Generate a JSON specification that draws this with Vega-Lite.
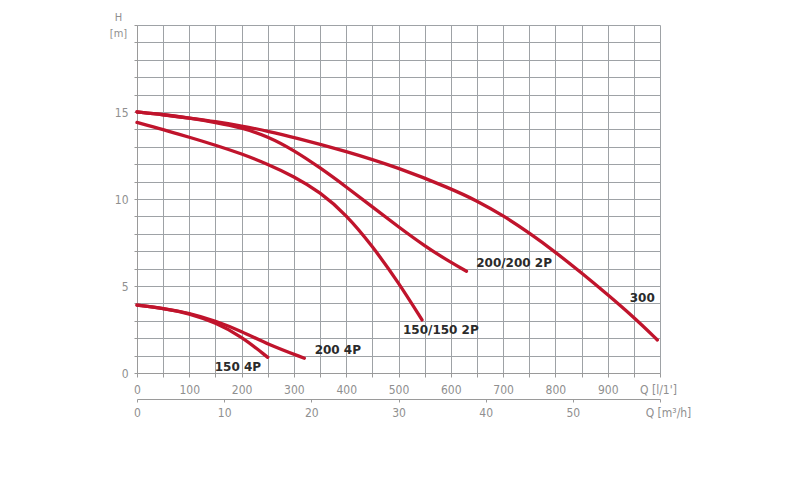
{
  "$schema": "https://vega.github.io/schema/vega-lite/v6.json",
  "width": 523,
  "height": 348,
  "autosize": {"type": "none"},
  "padding": {"left": 137, "top": 25, "right": 152, "bottom": 112},
  "background": "white",
  "config": {
    "view": {"stroke": null},
    "axis": {
      "labelFont": "Liberation Sans Narrow, DejaVu Sans Condensed, sans-serif",
      "labelFontSize": 12,
      "labelColor": "#8f8f8f",
      "titleFont": "Liberation Sans Narrow, DejaVu Sans Condensed, sans-serif",
      "titleColor": "#8f8f8f",
      "titleFontWeight": "normal",
      "domainColor": "#9a9a9a",
      "tickColor": "#9a9a9a",
      "gridColor": "#9ea2a6",
      "gridOpacity": 1,
      "gridWidth": 1,
      "labelOverlap": false,
      "labelFlush": false
    }
  },
  "datasets": {
    "curves": [
      {"series": "300", "Q": 0, "H": 15.0},
      {"series": "300", "Q": 50, "H": 14.85},
      {"series": "300", "Q": 100, "H": 14.65},
      {"series": "300", "Q": 150, "H": 14.45},
      {"series": "300", "Q": 200, "H": 14.2},
      {"series": "300", "Q": 250, "H": 13.9},
      {"series": "300", "Q": 300, "H": 13.55},
      {"series": "300", "Q": 400, "H": 12.75},
      {"series": "300", "Q": 500, "H": 11.8},
      {"series": "300", "Q": 600, "H": 10.6},
      {"series": "300", "Q": 650, "H": 9.9},
      {"series": "300", "Q": 700, "H": 9.05},
      {"series": "300", "Q": 750, "H": 8.05},
      {"series": "300", "Q": 800, "H": 6.95},
      {"series": "300", "Q": 850, "H": 5.75},
      {"series": "300", "Q": 900, "H": 4.5},
      {"series": "300", "Q": 950, "H": 3.2},
      {"series": "300", "Q": 995, "H": 1.9},
      {"series": "200/200 2P", "Q": 0, "H": 15.0},
      {"series": "200/200 2P", "Q": 50, "H": 14.85},
      {"series": "200/200 2P", "Q": 100, "H": 14.65},
      {"series": "200/200 2P", "Q": 150, "H": 14.4},
      {"series": "200/200 2P", "Q": 200, "H": 14.1},
      {"series": "200/200 2P", "Q": 250, "H": 13.6},
      {"series": "200/200 2P", "Q": 300, "H": 12.8},
      {"series": "200/200 2P", "Q": 350, "H": 11.8},
      {"series": "200/200 2P", "Q": 400, "H": 10.7},
      {"series": "200/200 2P", "Q": 450, "H": 9.55},
      {"series": "200/200 2P", "Q": 500, "H": 8.4},
      {"series": "200/200 2P", "Q": 550, "H": 7.3},
      {"series": "200/200 2P", "Q": 600, "H": 6.35},
      {"series": "200/200 2P", "Q": 630, "H": 5.85},
      {"series": "150/150 2P", "Q": 0, "H": 14.4},
      {"series": "150/150 2P", "Q": 50, "H": 14.0},
      {"series": "150/150 2P", "Q": 100, "H": 13.55},
      {"series": "150/150 2P", "Q": 150, "H": 13.1},
      {"series": "150/150 2P", "Q": 200, "H": 12.6},
      {"series": "150/150 2P", "Q": 250, "H": 12.0},
      {"series": "150/150 2P", "Q": 300, "H": 11.3},
      {"series": "150/150 2P", "Q": 350, "H": 10.4},
      {"series": "150/150 2P", "Q": 400, "H": 9.1},
      {"series": "150/150 2P", "Q": 450, "H": 7.3},
      {"series": "150/150 2P", "Q": 500, "H": 5.2},
      {"series": "150/150 2P", "Q": 545, "H": 3.05},
      {"series": "200 4P", "Q": 0, "H": 3.9},
      {"series": "200 4P", "Q": 50, "H": 3.72},
      {"series": "200 4P", "Q": 100, "H": 3.45},
      {"series": "200 4P", "Q": 150, "H": 3.0},
      {"series": "200 4P", "Q": 200, "H": 2.4},
      {"series": "200 4P", "Q": 250, "H": 1.65},
      {"series": "200 4P", "Q": 320, "H": 0.85},
      {"series": "150 4P", "Q": 0, "H": 3.9},
      {"series": "150 4P", "Q": 50, "H": 3.72},
      {"series": "150 4P", "Q": 100, "H": 3.42},
      {"series": "150 4P", "Q": 150, "H": 2.9},
      {"series": "150 4P", "Q": 200, "H": 2.1},
      {"series": "150 4P", "Q": 250, "H": 0.9}
    ],
    "labels": [
      {"name": "300", "Q": 966, "H": 4.3},
      {"name": "200/200 2P", "Q": 721, "H": 6.3},
      {"name": "150/150 2P", "Q": 581, "H": 2.5},
      {"name": "200 4P", "Q": 384, "H": 1.3},
      {"name": "150 4P", "Q": 193, "H": 0.35}
    ],
    "m3h": [
      {"m3h": 0, "H": 0},
      {"m3h": 60, "H": 0}
    ]
  },
  "layer": [
    {
      "data": {"name": "curves"},
      "mark": {"type": "line", "interpolate": "basis", "color": "#c0142c", "strokeWidth": 3.3, "strokeCap": "round"},
      "encoding": {
        "x": {
          "field": "Q", "type": "quantitative",
          "scale": {"domain": [0, 1000], "nice": false},
          "axis": {
            "title": null,
            "values": [0, 50, 100, 150, 200, 250, 300, 350, 400, 450, 500, 550, 600, 650, 700, 750, 800, 850, 900, 950, 1000],
            "labelExpr": "datum.value == 1000 ? \"Q [l/1']\" : (datum.value % 100 == 0 ? datum.label : '')",
            "labelOffset": {"condition": {"test": "datum.value == 1000", "value": -2}, "value": 0},
            "grid": true,
            "tickSize": 4,
            "labelPadding": 7
          }
        },
        "y": {
          "field": "H", "type": "quantitative",
          "scale": {"domain": [0, 20], "nice": false},
          "axis": {
            "title": ["H", "[m]"],
            "titleAngle": 0,
            "titleX": -19,
            "titleY": -14,
            "titleAlign": "center",
            "titleBaseline": "top",
            "titleFontSize": 11,
            "titleLineHeight": 16,
            "values": [0, 1, 2, 3, 4, 5, 6, 7, 8, 9, 10, 11, 12, 13, 14, 15, 16, 17, 18, 19, 20],
            "labelExpr": "(datum.value % 5 == 0 && datum.value < 20) ? datum.label : ''",
            "grid": true,
            "tickSize": 3,
            "labelPadding": 6
          }
        },
        "detail": {"field": "series", "type": "nominal"}
      }
    },
    {
      "data": {"name": "labels"},
      "mark": {"type": "text", "font": "DejaVu Sans", "fontWeight": "bold", "fontSize": 12, "color": "#2b2b2b", "align": "center", "baseline": "middle"},
      "encoding": {
        "x": {"field": "Q", "type": "quantitative", "scale": {"domain": [0, 1000], "nice": false}, "axis": null},
        "y": {
          "field": "H", "type": "quantitative",
          "scale": {"domain": [0, 20], "nice": false},
          "axis": {
            "title": ["H", "[m]"],
            "titleAngle": 0,
            "titleX": -19,
            "titleY": -14,
            "titleAlign": "center",
            "titleBaseline": "top",
            "titleFontSize": 11,
            "titleLineHeight": 16,
            "values": [0, 1, 2, 3, 4, 5, 6, 7, 8, 9, 10, 11, 12, 13, 14, 15, 16, 17, 18, 19, 20],
            "labelExpr": "(datum.value % 5 == 0 && datum.value < 20) ? datum.label : ''",
            "grid": true,
            "tickSize": 3,
            "labelPadding": 6
          }
        },
        "text": {"field": "name"}
      }
    },
    {
      "data": {"name": "m3h"},
      "mark": {"type": "point", "opacity": 0},
      "encoding": {
        "x": {
          "field": "m3h", "type": "quantitative",
          "scale": {"domain": [0, 60], "nice": false},
          "axis": {
            "orient": "bottom",
            "offset": 26,
            "title": null,
            "grid": false,
            "values": [0, 10, 20, 30, 40, 50, 60],
            "labelExpr": "datum.value == 60 ? 'Q [m³/h]' : datum.label",
            "labelOffset": {"condition": {"test": "datum.value == 60", "value": 8}, "value": 0},
            "tickSize": 3,
            "labelPadding": 5
          }
        },
        "y": {
          "field": "H", "type": "quantitative",
          "scale": {"domain": [0, 20], "nice": false},
          "axis": {
            "title": ["H", "[m]"],
            "titleAngle": 0,
            "titleX": -19,
            "titleY": -14,
            "titleAlign": "center",
            "titleBaseline": "top",
            "titleFontSize": 11,
            "titleLineHeight": 16,
            "values": [0, 1, 2, 3, 4, 5, 6, 7, 8, 9, 10, 11, 12, 13, 14, 15, 16, 17, 18, 19, 20],
            "labelExpr": "(datum.value % 5 == 0 && datum.value < 20) ? datum.label : ''",
            "grid": true,
            "tickSize": 3,
            "labelPadding": 6
          }
        }
      }
    }
  ],
  "resolve": {"scale": {"x": "independent"}}
}
